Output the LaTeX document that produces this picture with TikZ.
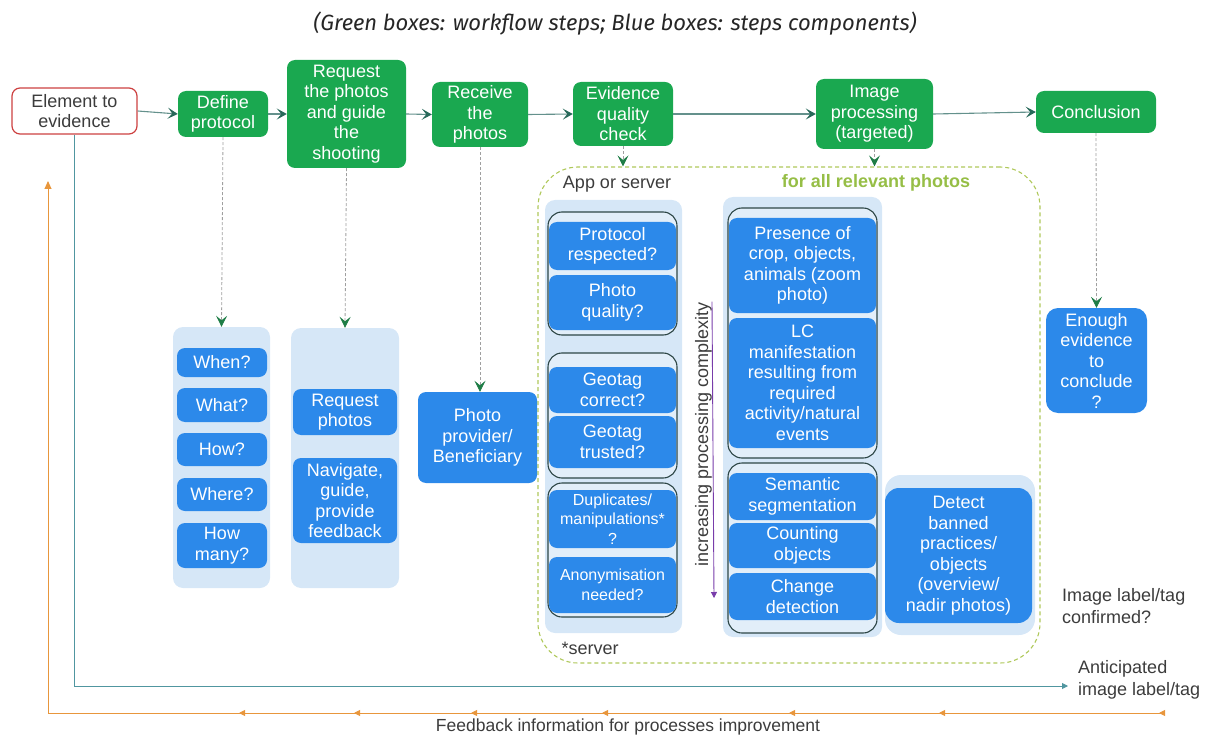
\documentclass[tikz,border=0pt]{standalone}
\usepackage{fontspec}
\setmainfont{Liberation Sans}
\newfontfamily\titlefont{Fira Sans}
\usetikzlibrary{arrows.meta,decorations.markings}
\definecolor{wgreen}{RGB}{26,168,80}
\definecolor{cblue}{RGB}{44,137,234}
\definecolor{lblue}{RGB}{214,231,247}
\definecolor{flow}{RGB}{100,145,140}
\definecolor{ahead}{RGB}{40,105,90}
\definecolor{dgreen}{RGB}{30,125,70}
\definecolor{dashyel}{RGB}{175,200,90}
\definecolor{allgreen}{RGB}{150,190,70}
\definecolor{orng}{RGB}{232,150,60}
\definecolor{purp}{RGB}{120,60,170}
\definecolor{redb}{RGB}{205,65,65}
\definecolor{txtgray}{RGB}{60,60,60}
\definecolor{grpline}{RGB}{45,70,70}
\definecolor{antic}{RGB}{80,150,160}
\begin{document}
\begin{tikzpicture}[x=1pt,y=-1pt,
  box/.style={rounded corners=8pt, inner sep=0pt, align=center,
    font=\fontsize{18}{20.5}\selectfont, text=white},
  greenbox/.style={box, fill=wgreen},
  bluebox/.style={box, fill=cblue},
  smallblue/.style={bluebox, font=\fontsize{16}{19.5}\selectfont},
  container/.style={rounded corners=10pt, fill=lblue, inner sep=0pt},
  group/.style={rounded corners=14pt, draw=grpline, line width=1.1pt, fill=lblue!70!white, inner sep=0pt},
  flowarrow/.style={draw=flow, line width=1.1pt,
    -{Stealth[length=10pt,width=11pt,inset=4.5pt,color=ahead]}},
  dasharrow/.style={draw=gray!75, line width=0.8pt, dash pattern=on 3pt off 2pt,
    -{Stealth[length=11pt,width=11pt,inset=4.5pt,color=dgreen]}},
  lbl/.style={font=\fontsize{18}{22}\selectfont, text=txtgray, inner sep=0pt},
]
\useasboundingbox (0,0) rectangle (1209,735);

% title
\node[font=\titlefont\itshape\fontsize{22}{26}\selectfont, text=black!85] (title) at (615,24)
  {(Green boxes: workflow steps; Blue boxes: steps components)};

% dashed region
\node[rounded corners=40pt, draw=dashyel, line width=1.1pt, dash pattern=on 4pt off 3pt,
  minimum width=502pt, minimum height=496pt, inner sep=0pt] (reg) at (789,415) {};

% top workflow
\node[box, draw=redb, line width=1.2pt, fill=white, text=txtgray,
  minimum width=125pt, minimum height=46pt] (elem) at (74.5,111) {Element to\\evidence};
\node[greenbox, minimum width=90pt, minimum height=46pt] (def) at (223,114) {Define\\protocol};
\node[greenbox, minimum width=119pt, minimum height=108pt] (req) at (346.5,114)
  {Request\\the photos\\and guide\\the\\shooting};
\node[greenbox, minimum width=96pt, minimum height=65pt] (rec) at (480,114.5) {Receive\\the\\photos};
\node[greenbox, minimum width=100pt, minimum height=64pt] (evq) at (623,114) {Evidence\\quality\\check};
\node[greenbox, minimum width=117pt, minimum height=70pt] (imp) at (874.5,114)
  {Image\\processing\\(targeted)};
\node[greenbox, minimum width=120pt, minimum height=42pt] (con) at (1096,112) {Conclusion};

\draw[flowarrow] (elem.east) -- (def.west);
\draw[flowarrow] (def.east) -- (req.west);
\draw[flowarrow] (req.east) -- (rec.west);
\draw[flowarrow] (rec.east) -- (evq.west);
\draw[flowarrow] (evq.east) -- (imp.west);
\draw[flowarrow] (imp.east) -- (con.west);

% protocol components
\node[container, minimum width=97pt, minimum height=261pt] (c1) at (221.5,457.5) {};
\node[bluebox, minimum width=90pt, minimum height=29pt] (when) at (222,362.5) {When?};
\node[bluebox, minimum width=90pt, minimum height=34pt] (what) at (222,405) {What?};
\node[bluebox, minimum width=90pt, minimum height=33pt] (how) at (222,449.5) {How?};
\node[bluebox, minimum width=90pt, minimum height=33pt] (where) at (222,494.5) {Where?};
\node[bluebox, minimum width=90pt, minimum height=45pt] (howmany) at (222,545.5) {How\\many?};

\node[container, minimum width=108pt, minimum height=260pt] (c2) at (345,458) {};
\node[bluebox, minimum width=104pt, minimum height=46pt] (reqph) at (345,412) {Request\\photos};
\node[bluebox, minimum width=104pt, minimum height=85pt] (nav) at (345,500.5)
  {Navigate,\\guide,\\provide\\feedback};

\node[bluebox, minimum width=119pt, minimum height=91pt] (prov) at (477.5,437.5)
  {Photo\\provider/\\Beneficiary};

% quality check column
\node[container, minimum width=137pt, minimum height=433pt] (cl) at (613.5,416.5) {};
\node[group, minimum width=129pt, minimum height=123pt] (g1) at (612.5,273.5) {};
\node[bluebox, minimum width=127pt, minimum height=48pt] (prot) at (612.5,246) {Protocol\\respected?};
\node[bluebox, minimum width=127pt, minimum height=55pt] (pq) at (612.5,302.5) {Photo\\quality?};
\node[group, minimum width=129pt, minimum height=125pt] (g2) at (612.5,415.5) {};
\node[bluebox, minimum width=127pt, minimum height=46pt] (geoc) at (612.5,390) {Geotag\\correct?};
\node[bluebox, minimum width=127pt, minimum height=52pt] (geot) at (612.5,442) {Geotag\\trusted?};
\node[group, minimum width=129pt, minimum height=134pt] (g3) at (612.5,550) {};
\node[smallblue, minimum width=127pt, minimum height=58pt] (dup) at (612.5,519)
  {Duplicates/\\manipulations*\\?};
\node[smallblue, minimum width=127pt, minimum height=56pt] (anon) at (612.5,585)
  {Anonymisation\\needed?};

% complexity arrow
\node[lbl, rotate=90, anchor=south] (ipc) at (712,434) {increasing processing complexity};
\draw[purp, line width=0.9pt, -{Triangle[length=6pt,width=6pt]}] (ipc.south east) -- (714,598);

% image processing column
\node[container, minimum width=159pt, minimum height=440pt] (cr) at (802.5,417) {};
\node[group, minimum width=149pt, minimum height=250pt] (ga) at (802.5,333) {};
\node[bluebox, minimum width=147pt, minimum height=95pt] (pres) at (802.5,265.5)
  {Presence of\\crop, objects,\\animals (zoom\\photo)};
\node[bluebox, minimum width=147pt, minimum height=130pt] (lc) at (802.5,383)
  {LC\\manifestation\\resulting from\\required\\activity/natural\\events};
\node[group, minimum width=149pt, minimum height=170pt] (gb) at (802.5,548) {};
\node[bluebox, minimum width=147pt, minimum height=47pt] (sem) at (802.5,496.5) {Semantic\\segmentation};
\node[bluebox, minimum width=147pt, minimum height=45pt] (cnt) at (802.5,545.5) {Counting\\objects};
\node[bluebox, minimum width=147pt, minimum height=47pt] (chg) at (802.5,596.5) {Change\\detection};

\node[container, rounded corners=16pt, minimum width=150pt, minimum height=160pt] (cd) at (960,555) {};
\node[bluebox, rounded corners=14pt, minimum width=147pt, minimum height=135pt] (det) at (958.5,555.5)
  {Detect\\banned\\practices/\\objects\\(overview/\\nadir photos)};

\node[bluebox, rounded corners=12pt, minimum width=101pt, minimum height=105pt] (enough) at (1096.5,360.5)
  {Enough\\evidence\\to\\conclude\\?};

% dashed connectors
\draw[dasharrow] (def.south) -- (c1.north);
\draw[dasharrow] (req.south) -- (c2.north);
\draw[dasharrow] (rec.south) -- (prov.north -| rec.south);
\draw[dasharrow] (evq.south) -- (reg.north -| evq.south);
\draw[dasharrow] (imp.south) -- (reg.north -| imp.south);
\draw[dasharrow] (con.south) -- (enough.north);

% labels
\node[lbl] (appsrv) at (617,184) {App or server};
\node[lbl, text=allgreen, font=\bfseries\fontsize{18}{22}\selectfont] (forall) at (876,183) {for all relevant photos};
\node[lbl] (server) at (590,648) {*server};
\node[lbl, anchor=west, align=left] (conf) at (1062,606) {Image label/tag\\confirmed?};
\node[lbl, anchor=west, align=left] (antxt) at (1078,680) {Anticipated\\image label/tag};
\node[lbl, font=\fontsize{17.5}{22}\selectfont] (fbtxt) at (628,727) {Feedback information for processes improvement};

% anticipated label line
\coordinate (antend) at (1068,686);
\draw[antic, line width=0.9pt, -{Triangle[length=6pt,width=6pt]}] (elem.south) |- (antend);

% feedback line
\coordinate (fbstart) at (1165,713);
\coordinate (fbend) at (48,181);
\draw[orng, line width=0.9pt, -{Triangle[length=8pt,width=7pt]},
  postaction={decorate},
  decoration={markings,
    mark=at position 6pt with {\arrow{Triangle[length=6pt,width=6pt]}},
    mark=at position 226pt with {\arrow{Triangle[length=6pt,width=6pt]}},
    mark=at position 376pt with {\arrow{Triangle[length=6pt,width=6pt]}},
    mark=at position 563pt with {\arrow{Triangle[length=6pt,width=6pt]}},
    mark=at position 694pt with {\arrow{Triangle[length=6pt,width=6pt]}},
    mark=at position 811pt with {\arrow{Triangle[length=6pt,width=6pt]}},
    mark=at position 926pt with {\arrow{Triangle[length=6pt,width=6pt]}}}]
  (fbstart) -| (fbend);
\end{tikzpicture}
\end{document}
